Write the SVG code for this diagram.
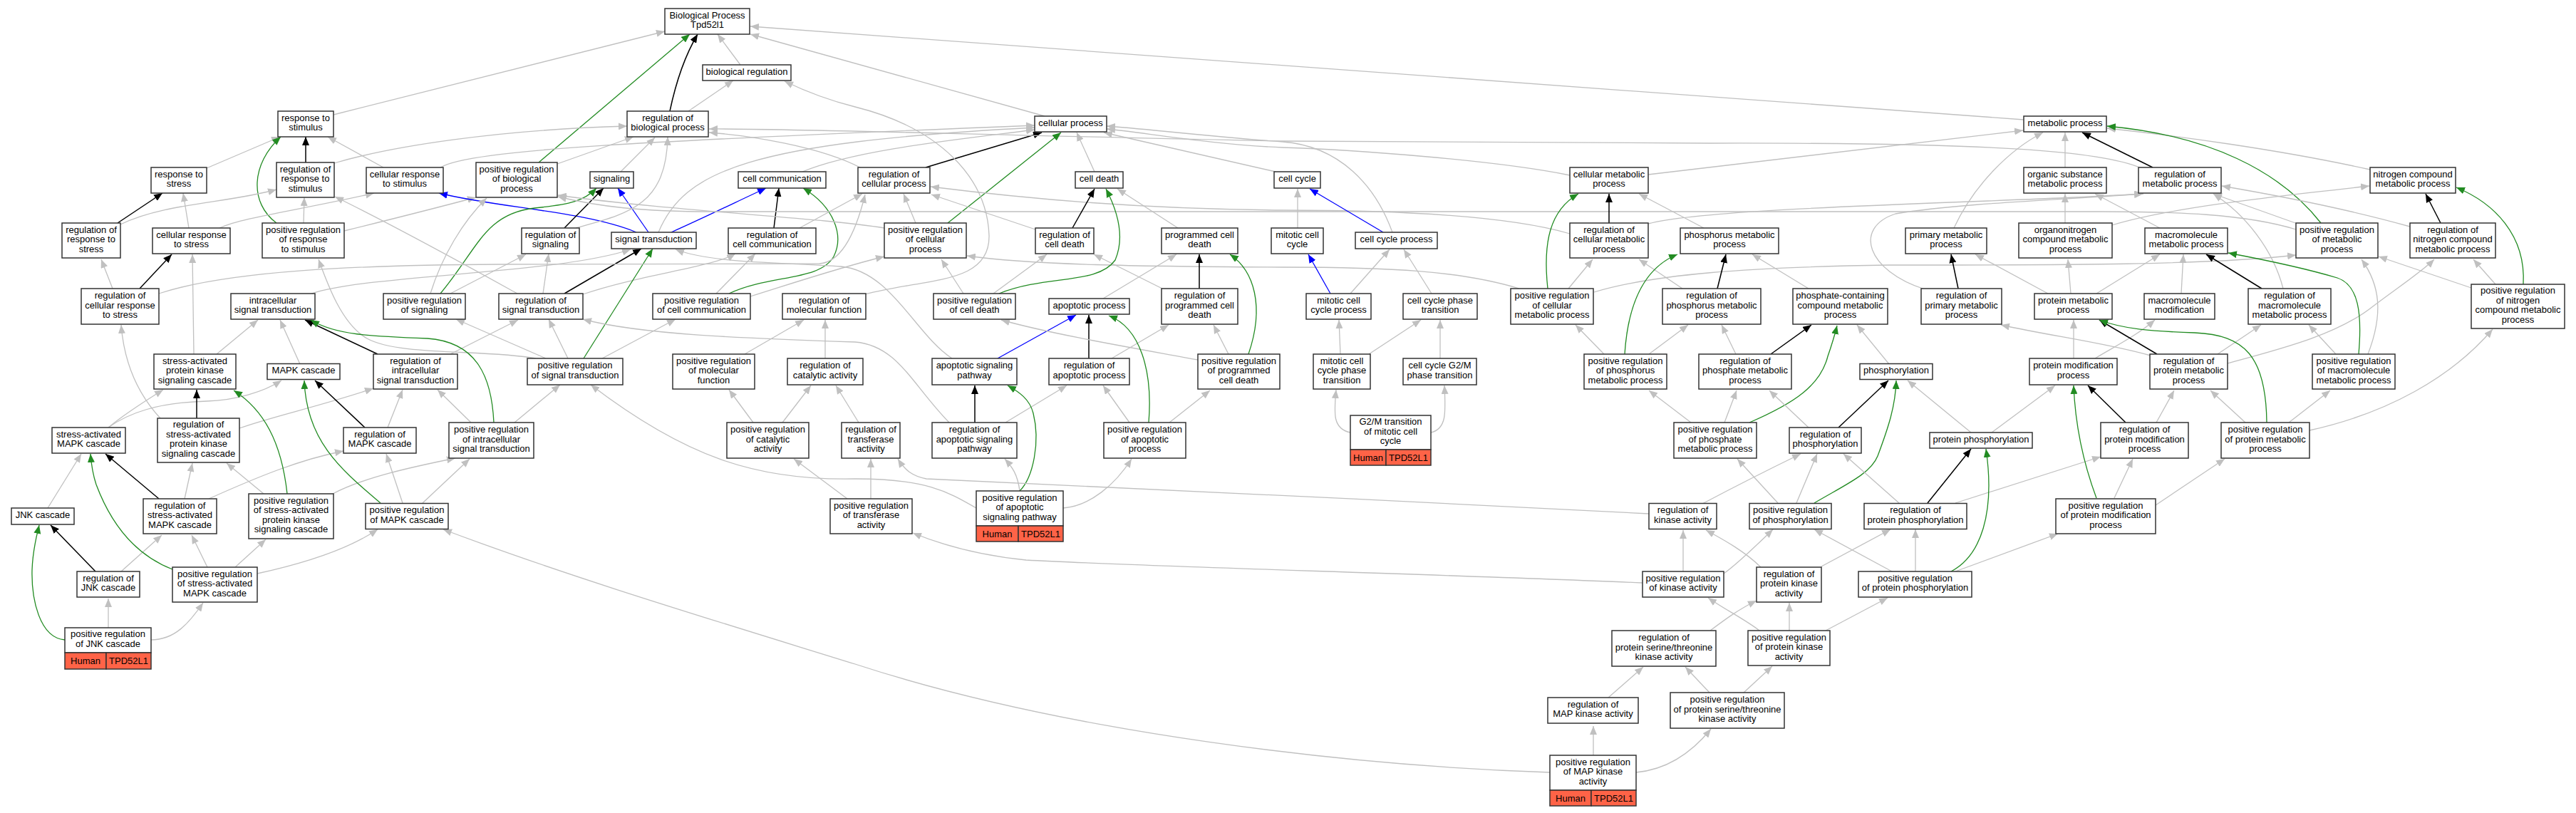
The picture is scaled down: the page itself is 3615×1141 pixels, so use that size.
<svg xmlns="http://www.w3.org/2000/svg" width="3615" height="1141" viewBox="0 0 3615 1141">
<style>
.n rect{fill:#fff;stroke:#333;stroke-width:1.5}
.n rect.h{fill:#ff6347}
.n text{font-family:"Liberation Sans",Arial,Helvetica,sans-serif;font-size:13px;text-anchor:middle;fill:#000}
#edges path{fill:none;stroke-width:1.3}
#edges .g{stroke:#c0c0c0;marker-end:url(#mg)}
#edges .k{stroke:#000;stroke-width:1.5;marker-end:url(#mk)}
#edges .v{stroke:#228b22;marker-end:url(#mv)}
#edges .b{stroke:#0000ff;marker-end:url(#mb)}
</style>
<defs>
<marker id="mg" viewBox="0 0 12 10" refX="12" refY="5" markerWidth="12" markerHeight="10" markerUnits="userSpaceOnUse" orient="auto"><path d="M0,0L12,5L0,10z" fill="#c0c0c0"/></marker>
<marker id="mk" viewBox="0 0 12 10" refX="12" refY="5" markerWidth="12" markerHeight="10" markerUnits="userSpaceOnUse" orient="auto"><path d="M0,0L12,5L0,10z" fill="#000"/></marker>
<marker id="mv" viewBox="0 0 12 10" refX="12" refY="5" markerWidth="12" markerHeight="10" markerUnits="userSpaceOnUse" orient="auto"><path d="M0,0L12,5L0,10z" fill="#228b22"/></marker>
<marker id="mb" viewBox="0 0 12 10" refX="12" refY="5" markerWidth="12" markerHeight="10" markerUnits="userSpaceOnUse" orient="auto"><path d="M0,0L12,5L0,10z" fill="#0000ff"/></marker>
</defs>
<rect width="3615" height="1141" fill="#fff"/>
<g id="edges">
<path class="g" d="M1039,91L1007,48"/>
<path class="k" d="M940,156C948,118 960,80 979,48"/>
<path class="g" d="M966,156L1029,113"/>
<path class="v" d="M756,228L968,48"/>
<path class="g" d="M782,230L889,192"/>
<path class="g" d="M468,161L933,44"/>
<path class="g" d="M1466,163L1053,48"/>
<path class="g" d="M2840,168L1053,37"/>
<path class="g" d="M290,236L393,192"/>
<path class="k" d="M429,228L429,192"/>
<path class="g" d="M538,235L460,192"/>
<path class="v" d="M388,313C350,285 352,230 394,192"/>
<path class="k" d="M165,313L228,271"/>
<path class="g" d="M169,315C230,285 320,285 388,266"/>
<path class="g" d="M265,320L257,271"/>
<path class="g" d="M308,320C340,305 420,295 525,271"/>
<path class="g" d="M426,313L427,277"/>
<path class="g" d="M483,324C540,310 600,295 668,277"/>
<path class="g" d="M469,229C550,205 700,182 880,177"/>
<path class="g" d="M618,235C660,210 900,198 1452,176"/>
<path class="b" d="M893,326C820,296 700,292 616,271"/>
<path class="b" d="M910,326L867,264"/>
<path class="b" d="M942,326C1000,300 1040,280 1075,264"/>
<path class="k" d="M792,320L847,264"/>
<path class="v" d="M618,412C670,350 680,300 750,292C800,287 820,282 837,264"/>
<path class="g" d="M871,241L919,193"/>
<path class="g" d="M808,320C880,300 935,290 937,192"/>
<path class="k" d="M1086,320L1093,264"/>
<path class="g" d="M1122,320L1210,272"/>
<path class="g" d="M1005,412L1060,356"/>
<path class="v" d="M1023,412C1080,385 1150,395 1170,360C1185,330 1170,290 1127,264"/>
<path class="g" d="M762,412L770,356"/>
<path class="k" d="M792,412L900,349"/>
<path class="g" d="M818,413C900,385 1000,375 1032,356"/>
<path class="g" d="M726,412C650,370 560,320 470,276"/>
<path class="g" d="M752,503C680,490 560,500 515,475C480,455 460,400 447,364"/>
<path class="g" d="M437,412C520,385 780,385 885,350"/>
<path class="g" d="M1336,503C1285,470 1250,380 1180,374C1100,368 1000,370 948,350"/>
<path class="v" d="M819,503L916,349"/>
<path class="g" d="M797,503L770,448"/>
<path class="g" d="M766,503L640,448"/>
<path class="g" d="M845,503L948,448"/>
<path class="g" d="M722,593L786,540"/>
<path class="g" d="M1370,713C1330,690 1300,672 1200,672C1060,675 960,640 829,540"/>
<path class="g" d="M924,326C960,240 1050,200 1452,179"/>
<path class="g" d="M1126,241C1200,210 1350,195 1452,182"/>
<path class="k" d="M1299,235L1462,186"/>
<path class="g" d="M1209,236C1150,205 1050,190 995,186"/>
<path class="g" d="M3005,236C2950,212 2800,200 2400,201L1800,198C1400,190 1100,180 995,181"/>
<path class="g" d="M1285,313L1268,272"/>
<path class="v" d="M1330,313L1489,186"/>
<path class="g" d="M1241,320C1150,305 950,297 783,274"/>
<path class="g" d="M3222,322C3150,300 3050,297 2950,297L1000,297C900,297 840,290 783,276"/>
<path class="g" d="M2203,328C2100,298 1900,295 1800,295C1600,293 1450,280 1306,262"/>
<path class="g" d="M1536,241L1511,186"/>
<path class="g" d="M1790,241L1549,186"/>
<path class="g" d="M2203,246C2100,225 1900,210 1800,207C1700,203 1600,185 1553,181"/>
<path class="g" d="M1954,326C1930,260 1880,205 1800,199C1700,192 1600,180 1553,177"/>
<path class="g" d="M2313,245L2839,183"/>
<path class="g" d="M2898,235L2898,186"/>
<path class="k" d="M3021,235L2922,186"/>
<path class="g" d="M3326,238C3200,210 3050,190 2957,180"/>
<path class="v" d="M3257,313C3200,240 3100,190 2957,177"/>
<path class="k" d="M3425,313L3404,272"/>
<path class="g" d="M3382,318C3300,295 3200,275 3118,261"/>
<path class="v" d="M3541,399C3545,330 3500,285 3447,263"/>
<path class="g" d="M3502,399L3471,364"/>
<path class="g" d="M3468,404L3338,360"/>
<path class="g" d="M3224,314L3106,272"/>
<path class="k" d="M2258,313L2258,272"/>
<path class="g" d="M2313,314C2400,290 2800,285 3008,272"/>
<path class="g" d="M2391,320L2300,272"/>
<path class="g" d="M2742,320C2770,260 2820,210 2867,186"/>
<path class="g" d="M2898,313L2898,272"/>
<path class="g" d="M2964,316C3050,290 3200,275 3325,261"/>
<path class="g" d="M3031,320L2940,272"/>
<path class="v" d="M2172,405C2165,340 2175,295 2215,272"/>
<path class="g" d="M2201,405L2235,364"/>
<path class="g" d="M2132,405C2050,380 1950,375 1800,375C1600,374 1450,372 1357,359"/>
<path class="g" d="M2237,410C2320,385 2450,375 2650,372C2900,372 3100,372 3222,358"/>
<path class="k" d="M2410,405L2422,357"/>
<path class="g" d="M2361,405L2300,364"/>
<path class="g" d="M2538,405L2459,357"/>
<path class="k" d="M2748,405L2738,357"/>
<path class="g" d="M2701,406C2620,380 2600,320 2660,300C2750,285 2900,280 3007,272"/>
<path class="g" d="M2874,412L2772,357"/>
<path class="g" d="M2906,412L2902,364"/>
<path class="g" d="M2942,412L3031,357"/>
<path class="g" d="M3061,412L3064,357"/>
<path class="k" d="M3174,405L3096,357"/>
<path class="g" d="M3204,405C3190,350 3150,300 3106,272"/>
<path class="g" d="M2651,511L2606,456"/>
<path class="k" d="M2485,497L2542,456"/>
<path class="g" d="M2436,497L2416,456"/>
<path class="g" d="M2314,497L2369,456"/>
<path class="g" d="M2251,497L2211,456"/>
<path class="v" d="M2280,497C2285,420 2310,375 2354,357"/>
<path class="g" d="M2910,503L2910,449"/>
<path class="g" d="M2940,503C2970,485 3000,470 3024,449"/>
<path class="k" d="M3027,497L2946,449"/>
<path class="g" d="M3112,497L3173,456"/>
<path class="g" d="M3126,510C3200,490 3280,470 3330,430C3370,400 3400,380 3416,364"/>
<path class="g" d="M3018,499C2950,480 2880,472 2808,456"/>
<path class="v" d="M3310,497C3315,440 3310,400 3280,390C3230,375 3180,365 3127,355"/>
<path class="g" d="M3278,497L3240,456"/>
<path class="g" d="M3323,497C3345,440 3340,400 3314,364"/>
<path class="g" d="M304,497L362,449"/>
<path class="g" d="M272,497L270,357"/>
<path class="g" d="M421,511L393,449"/>
<path class="k" d="M530,497L428,449"/>
<path class="g" d="M632,497L727,449"/>
<path class="g" d="M1045,497L1128,449"/>
<path class="g" d="M1158,503L1158,449"/>
<path class="g" d="M1214,413C1300,390 1390,400 1388,330C1385,250 1320,180 1200,150C1160,140 1130,128 1101,114"/>
<path class="b" d="M1400,503L1510,442"/>
<path class="k" d="M1528,503L1528,442"/>
<path class="g" d="M1560,503L1640,456"/>
<path class="g" d="M1724,497L1703,456"/>
<path class="v" d="M1752,497C1775,430 1760,380 1726,357"/>
<path class="g" d="M1681,505C1600,490 1480,470 1405,449"/>
<path class="g" d="M1548,419L1651,357"/>
<path class="k" d="M1683,405L1683,357"/>
<path class="g" d="M1633,406L1535,357"/>
<path class="g" d="M1394,412L1469,357"/>
<path class="v" d="M1402,412C1470,385 1540,400 1565,365C1580,330 1565,290 1552,265"/>
<path class="g" d="M1352,412L1321,364"/>
<path class="k" d="M1505,320L1536,265"/>
<path class="g" d="M1453,322L1307,273"/>
<path class="g" d="M1653,320L1568,265"/>
<path class="g" d="M1821,320L1821,265"/>
<path class="b" d="M1941,326L1838,265"/>
<path class="b" d="M1867,412L1836,357"/>
<path class="g" d="M1895,412L1950,350"/>
<path class="g" d="M2009,412L1970,350"/>
<path class="g" d="M1881,497L1879,449"/>
<path class="g" d="M1921,497L1994,449"/>
<path class="g" d="M2021,503L2021,449"/>
<path class="g" d="M1895,607C1870,602 1872,580 1875,547"/>
<path class="g" d="M2008,607C2030,602 2029,580 2027,541"/>
<path class="g" d="M152,600C170,585 200,565 229,547"/>
<path class="g" d="M152,600C180,580 220,565 290,563C330,562 370,550 395,534"/>
<path class="k" d="M276,587L276,547"/>
<path class="g" d="M225,587C200,560 175,520 170,456"/>
<path class="g" d="M336,601C380,585 450,570 524,545"/>
<path class="k" d="M512,600L442,534"/>
<path class="g" d="M544,600L565,547"/>
<path class="g" d="M661,593L614,547"/>
<path class="v" d="M693,593C690,530 670,480 600,475C520,472 470,470 436,449"/>
<path class="g" d="M1098,593L1138,541"/>
<path class="g" d="M1057,593L1023,547"/>
<path class="g" d="M1205,593L1173,541"/>
<path class="k" d="M1368,593L1368,541"/>
<path class="g" d="M1411,593L1497,541"/>
<path class="g" d="M1332,593C1280,540 1260,485 1200,480C1050,475 900,470 818,448"/>
<path class="g" d="M1585,593L1548,541"/>
<path class="v" d="M1612,593C1618,520 1600,460 1556,443"/>
<path class="g" d="M1641,593L1698,548"/>
<path class="g" d="M2420,593L2437,548"/>
<path class="v" d="M2455,593C2520,565 2555,540 2565,500C2572,480 2576,465 2578,457"/>
<path class="g" d="M2373,593L2314,548"/>
<path class="k" d="M2580,600L2650,534"/>
<path class="g" d="M2538,600L2483,548"/>
<path class="g" d="M2766,607L2677,534"/>
<path class="g" d="M2795,607L2884,541"/>
<path class="k" d="M2983,593L2930,541"/>
<path class="g" d="M3026,593L3051,548"/>
<path class="g" d="M3151,593L3102,548"/>
<path class="v" d="M3181,593C3180,500 3150,470 3080,467C3020,465 2980,462 2946,449"/>
<path class="g" d="M3212,593L3270,548"/>
<path class="g" d="M3241,604C3350,580 3440,530 3498,462"/>
<path class="g" d="M67,713L114,637"/>
<path class="k" d="M223,700L148,637"/>
<path class="g" d="M259,700L270,650"/>
<path class="g" d="M293,700C360,670 420,645 482,633"/>
<path class="g" d="M370,693L318,650"/>
<path class="v" d="M403,693C395,620 370,575 328,548"/>
<path class="g" d="M467,693C510,670 580,655 639,643"/>
<path class="g" d="M565,706L542,637"/>
<path class="v" d="M534,706C480,660 430,620 427,534"/>
<path class="g" d="M593,706L659,644"/>
<path class="g" d="M1222,700L1222,644"/>
<path class="g" d="M1189,700L1114,644"/>
<path class="g" d="M1431,689C1428,665 1420,655 1410,644"/>
<path class="v" d="M1431,689C1450,670 1460,620 1450,580C1445,560 1430,550 1414,541"/>
<path class="g" d="M1492,713C1530,710 1565,680 1588,644"/>
<path class="g" d="M2314,721C2000,705 1500,680 1300,672C1280,668 1270,660 1260,644"/>
<path class="g" d="M2389,707C2440,680 2490,655 2527,637"/>
<path class="g" d="M2521,706L2550,637"/>
<path class="v" d="M2546,706C2590,680 2625,665 2635,640C2650,600 2660,570 2661,534"/>
<path class="g" d="M2495,706L2438,644"/>
<path class="g" d="M2665,706L2587,637"/>
<path class="k" d="M2705,706L2766,630"/>
<path class="g" d="M2744,706L2948,641"/>
<path class="g" d="M2967,699L2993,644"/>
<path class="v" d="M2942,699C2920,640 2912,590 2910,541"/>
<path class="g" d="M3025,709L3122,644"/>
<path class="k" d="M134,802L71,737"/>
<path class="g" d="M170,802L227,751"/>
<path class="g" d="M291,796L269,751"/>
<path class="v" d="M242,799C180,775 150,720 135,680C130,665 128,650 127,637"/>
<path class="g" d="M330,796L373,757"/>
<path class="g" d="M361,805C430,790 490,770 530,743"/>
<path class="g" d="M2362,802L2362,744"/>
<path class="g" d="M2305,818C2000,805 1600,795 1440,786C1380,780 1330,768 1281,748"/>
<path class="g" d="M2419,805C2440,790 2465,765 2488,743"/>
<path class="g" d="M2471,796C2450,775 2420,758 2394,744"/>
<path class="g" d="M2556,795L2653,743"/>
<path class="g" d="M2688,802L2688,743"/>
<path class="v" d="M2738,802C2780,780 2800,720 2787,630"/>
<path class="g" d="M2655,802L2546,743"/>
<path class="g" d="M2744,802L2888,749"/>
<path class="g" d="M152,881L152,840"/>
<path class="v" d="M91,898C55,895 44,840 45,800C46,770 52,750 55,737"/>
<path class="g" d="M212,898C245,898 265,875 285,846"/>
<path class="g" d="M2400,885C2420,870 2440,855 2465,843"/>
<path class="g" d="M2469,885C2450,870 2420,855 2397,839"/>
<path class="g" d="M2511,885L2511,846"/>
<path class="g" d="M2562,885L2649,839"/>
<path class="g" d="M2257,979L2306,936"/>
<path class="g" d="M2399,972L2365,936"/>
<path class="g" d="M2447,972L2487,935"/>
<path class="g" d="M2236,1060L2236,1019"/>
<path class="g" d="M2296,1084C2340,1080 2375,1055 2401,1023"/>
<path class="g" d="M2175,1084C1900,1075 1500,1030 1200,932C1000,870 800,810 622,743"/>
<path class="g" d="M158,405L142,364"/>
<path class="k" d="M196,405L241,357"/>
<path class="g" d="M223,412C320,380 500,372 700,371L1150,370C1180,368 1200,330 1214,273"/>
<path class="g" d="M604,412C620,360 650,310 683,278"/>
<path class="g" d="M632,412L738,357"/>
<path class="g" d="M1053,416C1120,395 1180,375 1241,360"/>
</g>
<g id="n-bp" class="n"><rect x="933" y="12" width="119" height="36"/><text x="992.5" y="25.75">Biological Process</text><text x="992.5" y="39.25">Tpd52l1</text></g>
<g id="n-bioreg" class="n"><rect x="986" y="91" width="124" height="22"/><text x="1048" y="104.5">biological regulation</text></g>
<g id="n-regbp" class="n"><rect x="880" y="156" width="114" height="36"/><text x="937" y="169.75">regulation of</text><text x="937" y="183.25">biological process</text></g>
<g id="n-respstim" class="n"><rect x="390" y="156" width="78" height="36"/><text x="429" y="169.75">response to</text><text x="429" y="183.25">stimulus</text></g>
<g id="n-cellproc" class="n"><rect x="1452" y="163" width="101" height="22"/><text x="1502.5" y="176.5">cellular process</text></g>
<g id="n-metab" class="n"><rect x="2840" y="163" width="116" height="22"/><text x="2898" y="176.5">metabolic process</text></g>
<g id="n-respstress" class="n"><rect x="212" y="235" width="78" height="36"/><text x="251" y="248.75">response to</text><text x="251" y="262.25">stress</text></g>
<g id="n-regrespstim" class="n"><rect x="388" y="228" width="81" height="49"/><text x="428.5" y="241.5">regulation of</text><text x="428.5" y="255">response to</text><text x="428.5" y="268.5">stimulus</text></g>
<g id="n-cellrespstim" class="n"><rect x="514" y="235" width="108" height="36"/><text x="568" y="248.75">cellular response</text><text x="568" y="262.25">to stimulus</text></g>
<g id="n-posregbp" class="n"><rect x="668" y="228" width="114" height="49"/><text x="725" y="241.5">positive regulation</text><text x="725" y="255">of biological</text><text x="725" y="268.5">process</text></g>
<g id="n-signaling" class="n"><rect x="828" y="241" width="61" height="23"/><text x="858.5" y="255">signaling</text></g>
<g id="n-cellcomm" class="n"><rect x="1036" y="241" width="123" height="23"/><text x="1097.5" y="255">cell communication</text></g>
<g id="n-regcellproc" class="n"><rect x="1204" y="235" width="101" height="36"/><text x="1254.5" y="248.75">regulation of</text><text x="1254.5" y="262.25">cellular process</text></g>
<g id="n-celldeath" class="n"><rect x="1509" y="241" width="67" height="23"/><text x="1542.5" y="255">cell death</text></g>
<g id="n-cellcycle" class="n"><rect x="1788" y="241" width="65" height="23"/><text x="1820.5" y="255">cell cycle</text></g>
<g id="n-cellmetab" class="n"><rect x="2203" y="235" width="110" height="36"/><text x="2258" y="248.75">cellular metabolic</text><text x="2258" y="262.25">process</text></g>
<g id="n-orgsub" class="n"><rect x="2840" y="235" width="116" height="36"/><text x="2898" y="248.75">organic substance</text><text x="2898" y="262.25">metabolic process</text></g>
<g id="n-regmetab" class="n"><rect x="3001" y="235" width="116" height="36"/><text x="3059" y="248.75">regulation of</text><text x="3059" y="262.25">metabolic process</text></g>
<g id="n-nitro" class="n"><rect x="3326" y="235" width="120" height="36"/><text x="3386" y="248.75">nitrogen compound</text><text x="3386" y="262.25">metabolic process</text></g>
<g id="n-regrespstress" class="n"><rect x="87" y="313" width="82" height="49"/><text x="128" y="326.5">regulation of</text><text x="128" y="340">response to</text><text x="128" y="353.5">stress</text></g>
<g id="n-cellrespstress" class="n"><rect x="214" y="320" width="109" height="36"/><text x="268.5" y="333.75">cellular response</text><text x="268.5" y="347.25">to stress</text></g>
<g id="n-posregrespstim" class="n"><rect x="368" y="313" width="115" height="49"/><text x="425.5" y="326.5">positive regulation</text><text x="425.5" y="340">of response</text><text x="425.5" y="353.5">to stimulus</text></g>
<g id="n-regsignaling" class="n"><rect x="732" y="320" width="81" height="36"/><text x="772.5" y="333.75">regulation of</text><text x="772.5" y="347.25">signaling</text></g>
<g id="n-sigtrans" class="n"><rect x="858" y="326" width="119" height="23"/><text x="917.5" y="340">signal transduction</text></g>
<g id="n-regcellcomm" class="n"><rect x="1022" y="320" width="123" height="36"/><text x="1083.5" y="333.75">regulation of</text><text x="1083.5" y="347.25">cell communication</text></g>
<g id="n-posregcellproc" class="n"><rect x="1241" y="313" width="115" height="49"/><text x="1298.5" y="326.5">positive regulation</text><text x="1298.5" y="340">of cellular</text><text x="1298.5" y="353.5">process</text></g>
<g id="n-regcelldeath" class="n"><rect x="1453" y="320" width="82" height="36"/><text x="1494" y="333.75">regulation of</text><text x="1494" y="347.25">cell death</text></g>
<g id="n-pcd" class="n"><rect x="1630" y="320" width="107" height="36"/><text x="1683.5" y="333.75">programmed cell</text><text x="1683.5" y="347.25">death</text></g>
<g id="n-mitcc" class="n"><rect x="1784" y="320" width="73" height="36"/><text x="1820.5" y="333.75">mitotic cell</text><text x="1820.5" y="347.25">cycle</text></g>
<g id="n-ccproc" class="n"><rect x="1902" y="326" width="115" height="23"/><text x="1959.5" y="340">cell cycle process</text></g>
<g id="n-regcellmetab" class="n"><rect x="2203" y="313" width="110" height="49"/><text x="2258" y="326.5">regulation of</text><text x="2258" y="340">cellular metabolic</text><text x="2258" y="353.5">process</text></g>
<g id="n-phosmetab" class="n"><rect x="2358" y="320" width="138" height="36"/><text x="2427" y="333.75">phosphorus metabolic</text><text x="2427" y="347.25">process</text></g>
<g id="n-primmetab" class="n"><rect x="2674" y="320" width="114" height="36"/><text x="2731" y="333.75">primary metabolic</text><text x="2731" y="347.25">process</text></g>
<g id="n-orgnitro" class="n"><rect x="2833" y="313" width="131" height="49"/><text x="2898.5" y="326.5">organonitrogen</text><text x="2898.5" y="340">compound metabolic</text><text x="2898.5" y="353.5">process</text></g>
<g id="n-macromet" class="n"><rect x="3010" y="320" width="116" height="36"/><text x="3068" y="333.75">macromolecule</text><text x="3068" y="347.25">metabolic process</text></g>
<g id="n-posregmetab" class="n"><rect x="3222" y="313" width="115" height="49"/><text x="3279.5" y="326.5">positive regulation</text><text x="3279.5" y="340">of metabolic</text><text x="3279.5" y="353.5">process</text></g>
<g id="n-regnitro" class="n"><rect x="3382" y="313" width="120" height="49"/><text x="3442" y="326.5">regulation of</text><text x="3442" y="340">nitrogen compound</text><text x="3442" y="353.5">metabolic process</text></g>
<g id="n-regcellrespstress" class="n"><rect x="114" y="405" width="109" height="50"/><text x="168.5" y="419">regulation of</text><text x="168.5" y="432.5">cellular response</text><text x="168.5" y="446">to stress</text></g>
<g id="n-intrasig" class="n"><rect x="324" y="412" width="118" height="36"/><text x="383" y="425.75">intracellular</text><text x="383" y="439.25">signal transduction</text></g>
<g id="n-posregsignaling" class="n"><rect x="538" y="412" width="115" height="36"/><text x="595.5" y="425.75">positive regulation</text><text x="595.5" y="439.25">of signaling</text></g>
<g id="n-regsigtrans" class="n"><rect x="700" y="412" width="118" height="36"/><text x="759" y="425.75">regulation of</text><text x="759" y="439.25">signal transduction</text></g>
<g id="n-posregcellcomm" class="n"><rect x="916" y="412" width="137" height="36"/><text x="984.5" y="425.75">positive regulation</text><text x="984.5" y="439.25">of cell communication</text></g>
<g id="n-regmolfunc" class="n"><rect x="1098" y="412" width="117" height="36"/><text x="1156.5" y="425.75">regulation of</text><text x="1156.5" y="439.25">molecular function</text></g>
<g id="n-posregcelldeath" class="n"><rect x="1310" y="412" width="115" height="36"/><text x="1367.5" y="425.75">positive regulation</text><text x="1367.5" y="439.25">of cell death</text></g>
<g id="n-apoptotic" class="n"><rect x="1472" y="419" width="113" height="22"/><text x="1528.5" y="432.5">apoptotic process</text></g>
<g id="n-regpcd" class="n"><rect x="1630" y="405" width="107" height="50"/><text x="1683.5" y="419">regulation of</text><text x="1683.5" y="432.5">programmed cell</text><text x="1683.5" y="446">death</text></g>
<g id="n-mitccproc" class="n"><rect x="1833" y="412" width="91" height="36"/><text x="1878.5" y="425.75">mitotic cell</text><text x="1878.5" y="439.25">cycle process</text></g>
<g id="n-ccphase" class="n"><rect x="1969" y="412" width="104" height="36"/><text x="2021" y="425.75">cell cycle phase</text><text x="2021" y="439.25">transition</text></g>
<g id="n-posregcellmetab" class="n"><rect x="2120" y="405" width="116" height="50"/><text x="2178" y="419">positive regulation</text><text x="2178" y="432.5">of cellular</text><text x="2178" y="446">metabolic process</text></g>
<g id="n-regphosmetab" class="n"><rect x="2333" y="405" width="138" height="50"/><text x="2402" y="419">regulation of</text><text x="2402" y="432.5">phosphorus metabolic</text><text x="2402" y="446">process</text></g>
<g id="n-phoscont" class="n"><rect x="2516" y="405" width="133" height="50"/><text x="2582.5" y="419">phosphate-containing</text><text x="2582.5" y="432.5">compound metabolic</text><text x="2582.5" y="446">process</text></g>
<g id="n-regprimmetab" class="n"><rect x="2696" y="405" width="113" height="50"/><text x="2752.5" y="419">regulation of</text><text x="2752.5" y="432.5">primary metabolic</text><text x="2752.5" y="446">process</text></g>
<g id="n-protmetab" class="n"><rect x="2855" y="412" width="109" height="36"/><text x="2909.5" y="425.75">protein metabolic</text><text x="2909.5" y="439.25">process</text></g>
<g id="n-macromod" class="n"><rect x="3009" y="412" width="99" height="36"/><text x="3058.5" y="425.75">macromolecule</text><text x="3058.5" y="439.25">modification</text></g>
<g id="n-regmacromet" class="n"><rect x="3155" y="405" width="116" height="50"/><text x="3213" y="419">regulation of</text><text x="3213" y="432.5">macromolecule</text><text x="3213" y="446">metabolic process</text></g>
<g id="n-posregnitro" class="n"><rect x="3468" y="399" width="131" height="62"/><text x="3533.5" y="412.25">positive regulation</text><text x="3533.5" y="425.75">of nitrogen</text><text x="3533.5" y="439.25">compound metabolic</text><text x="3533.5" y="452.75">process</text></g>
<g id="n-sapk" class="n"><rect x="216" y="497" width="115" height="49"/><text x="273.5" y="510.5">stress-activated</text><text x="273.5" y="524">protein kinase</text><text x="273.5" y="537.5">signaling cascade</text></g>
<g id="n-mapk" class="n"><rect x="375" y="510.5" width="102" height="22"/><text x="426" y="524">MAPK cascade</text></g>
<g id="n-regintrasig" class="n"><rect x="524" y="497" width="118" height="49"/><text x="583" y="510.5">regulation of</text><text x="583" y="524">intracellular</text><text x="583" y="537.5">signal transduction</text></g>
<g id="n-posregsigtrans" class="n"><rect x="740" y="503" width="134" height="37"/><text x="807" y="517.25">positive regulation</text><text x="807" y="530.75">of signal transduction</text></g>
<g id="n-posregmolfunc" class="n"><rect x="944" y="497" width="115" height="49"/><text x="1001.5" y="510.5">positive regulation</text><text x="1001.5" y="524">of molecular</text><text x="1001.5" y="537.5">function</text></g>
<g id="n-regcatal" class="n"><rect x="1105" y="503" width="106" height="37"/><text x="1158" y="517.25">regulation of</text><text x="1158" y="530.75">catalytic activity</text></g>
<g id="n-apopsig" class="n"><rect x="1308" y="503" width="119" height="37"/><text x="1367.5" y="517.25">apoptotic signaling</text><text x="1367.5" y="530.75">pathway</text></g>
<g id="n-regapop" class="n"><rect x="1472" y="503" width="113" height="37"/><text x="1528.5" y="517.25">regulation of</text><text x="1528.5" y="530.75">apoptotic process</text></g>
<g id="n-posregpcd" class="n"><rect x="1681" y="497" width="115" height="49"/><text x="1738.5" y="510.5">positive regulation</text><text x="1738.5" y="524">of programmed</text><text x="1738.5" y="537.5">cell death</text></g>
<g id="n-mitccphase" class="n"><rect x="1843" y="497" width="80" height="49"/><text x="1883" y="510.5">mitotic cell</text><text x="1883" y="524">cycle phase</text><text x="1883" y="537.5">transition</text></g>
<g id="n-g2mphase" class="n"><rect x="1969" y="503" width="103" height="37"/><text x="2020.5" y="517.25">cell cycle G2/M</text><text x="2020.5" y="530.75">phase transition</text></g>
<g id="n-posregphosmetab" class="n"><rect x="2223" y="497" width="116" height="49"/><text x="2281" y="510.5">positive regulation</text><text x="2281" y="524">of phosphorus</text><text x="2281" y="537.5">metabolic process</text></g>
<g id="n-regphosphate" class="n"><rect x="2384" y="497" width="130" height="49"/><text x="2449" y="510.5">regulation of</text><text x="2449" y="524">phosphate metabolic</text><text x="2449" y="537.5">process</text></g>
<g id="n-phosphorylation" class="n"><rect x="2610" y="510.5" width="102" height="22"/><text x="2661" y="524">phosphorylation</text></g>
<g id="n-protmod" class="n"><rect x="2848" y="503" width="123" height="37"/><text x="2909.5" y="517.25">protein modification</text><text x="2909.5" y="530.75">process</text></g>
<g id="n-regprotmetab" class="n"><rect x="3017" y="497" width="109" height="49"/><text x="3071.5" y="510.5">regulation of</text><text x="3071.5" y="524">protein metabolic</text><text x="3071.5" y="537.5">process</text></g>
<g id="n-posregmacromet" class="n"><rect x="3245" y="497" width="116" height="49"/><text x="3303" y="510.5">positive regulation</text><text x="3303" y="524">of macromolecule</text><text x="3303" y="537.5">metabolic process</text></g>
<g id="n-samapk" class="n"><rect x="73" y="600" width="103" height="36"/><text x="124.5" y="613.75">stress-activated</text><text x="124.5" y="627.25">MAPK cascade</text></g>
<g id="n-regsapk" class="n"><rect x="221" y="587" width="115" height="62"/><text x="278.5" y="600.25">regulation of</text><text x="278.5" y="613.75">stress-activated</text><text x="278.5" y="627.25">protein kinase</text><text x="278.5" y="640.75">signaling cascade</text></g>
<g id="n-regmapk" class="n"><rect x="482" y="600" width="102" height="36"/><text x="533" y="613.75">regulation of</text><text x="533" y="627.25">MAPK cascade</text></g>
<g id="n-posregintrasig" class="n"><rect x="630" y="593" width="119" height="50"/><text x="689.5" y="607">positive regulation</text><text x="689.5" y="620.5">of intracellular</text><text x="689.5" y="634">signal transduction</text></g>
<g id="n-posregcatal" class="n"><rect x="1020" y="593" width="115" height="50"/><text x="1077.5" y="607">positive regulation</text><text x="1077.5" y="620.5">of catalytic</text><text x="1077.5" y="634">activity</text></g>
<g id="n-regtransf" class="n"><rect x="1181" y="593" width="82" height="50"/><text x="1222" y="607">regulation of</text><text x="1222" y="620.5">transferase</text><text x="1222" y="634">activity</text></g>
<g id="n-regapopsig" class="n"><rect x="1308" y="593" width="119" height="50"/><text x="1367.5" y="607">regulation of</text><text x="1367.5" y="620.5">apoptotic signaling</text><text x="1367.5" y="634">pathway</text></g>
<g id="n-posregapop" class="n"><rect x="1549" y="593" width="115" height="50"/><text x="1606.5" y="607">positive regulation</text><text x="1606.5" y="620.5">of apoptotic</text><text x="1606.5" y="634">process</text></g>
<g id="n-g2m" class="n"><rect x="1895" y="583" width="113" height="48"/><rect class="h" x="1895" y="631" width="50" height="22"/><rect class="h" x="1945" y="631" width="63" height="22"/><text x="1951.5" y="596">G2/M transition</text><text x="1951.5" y="609.5">of mitotic cell</text><text x="1951.5" y="623">cycle</text><text x="1920" y="646.5">Human</text><text x="1976.5" y="646.5">TPD52L1</text></g>
<g id="n-posregphosphate" class="n"><rect x="2349" y="593" width="116" height="50"/><text x="2407" y="607">positive regulation</text><text x="2407" y="620.5">of phosphate</text><text x="2407" y="634">metabolic process</text></g>
<g id="n-regphosph" class="n"><rect x="2511" y="600" width="101" height="36"/><text x="2561.5" y="613.75">regulation of</text><text x="2561.5" y="627.25">phosphorylation</text></g>
<g id="n-protphos" class="n"><rect x="2708" y="607" width="144" height="22"/><text x="2780" y="620.5">protein phosphorylation</text></g>
<g id="n-regprotmod" class="n"><rect x="2948" y="593" width="123" height="50"/><text x="3009.5" y="607">regulation of</text><text x="3009.5" y="620.5">protein modification</text><text x="3009.5" y="634">process</text></g>
<g id="n-posregprotmetab" class="n"><rect x="3117" y="593" width="124" height="50"/><text x="3179" y="607">positive regulation</text><text x="3179" y="620.5">of protein metabolic</text><text x="3179" y="634">process</text></g>
<g id="n-jnk" class="n"><rect x="16" y="713" width="88" height="23"/><text x="60" y="727">JNK cascade</text></g>
<g id="n-regsamapk" class="n"><rect x="201" y="700" width="103" height="49"/><text x="252.5" y="713.5">regulation of</text><text x="252.5" y="727">stress-activated</text><text x="252.5" y="740.5">MAPK cascade</text></g>
<g id="n-posregsapk" class="n"><rect x="349" y="693" width="119" height="63"/><text x="408.5" y="706.75">positive regulation</text><text x="408.5" y="720.25">of stress-activated</text><text x="408.5" y="733.75">protein kinase</text><text x="408.5" y="747.25">signaling cascade</text></g>
<g id="n-posregmapk" class="n"><rect x="513" y="706.5" width="116" height="36"/><text x="571" y="720.25">positive regulation</text><text x="571" y="733.75">of MAPK cascade</text></g>
<g id="n-posregtransf" class="n"><rect x="1165" y="700" width="115" height="49"/><text x="1222.5" y="713.5">positive regulation</text><text x="1222.5" y="727">of transferase</text><text x="1222.5" y="740.5">activity</text></g>
<g id="n-posregapopsig" class="n"><rect x="1370" y="689" width="122" height="49"/><rect class="h" x="1370" y="738" width="59" height="22"/><rect class="h" x="1429" y="738" width="63" height="22"/><text x="1431" y="702.5">positive regulation</text><text x="1431" y="716">of apoptotic</text><text x="1431" y="729.5">signaling pathway</text><text x="1399.5" y="753.5">Human</text><text x="1460.5" y="753.5">TPD52L1</text></g>
<g id="n-regkinase" class="n"><rect x="2314" y="706.5" width="95" height="36"/><text x="2361.5" y="720.25">regulation of</text><text x="2361.5" y="733.75">kinase activity</text></g>
<g id="n-posregphosph" class="n"><rect x="2455" y="706.5" width="115" height="36"/><text x="2512.5" y="720.25">positive regulation</text><text x="2512.5" y="733.75">of phosphorylation</text></g>
<g id="n-regprotphos" class="n"><rect x="2616" y="706.5" width="144" height="36"/><text x="2688" y="720.25">regulation of</text><text x="2688" y="733.75">protein phosphorylation</text></g>
<g id="n-posregprotmod" class="n"><rect x="2885" y="700" width="140" height="49"/><text x="2955" y="713.5">positive regulation</text><text x="2955" y="727">of protein modification</text><text x="2955" y="740.5">process</text></g>
<g id="n-regjnk" class="n"><rect x="108" y="802" width="88" height="36"/><text x="152" y="815.75">regulation of</text><text x="152" y="829.25">JNK cascade</text></g>
<g id="n-posregsamapk" class="n"><rect x="242" y="796" width="119" height="49"/><text x="301.5" y="809.5">positive regulation</text><text x="301.5" y="823">of stress-activated</text><text x="301.5" y="836.5">MAPK cascade</text></g>
<g id="n-posregkinase" class="n"><rect x="2305" y="802" width="114" height="36"/><text x="2362" y="815.75">positive regulation</text><text x="2362" y="829.25">of kinase activity</text></g>
<g id="n-regprotkinase" class="n"><rect x="2465" y="796" width="91" height="49"/><text x="2510.5" y="809.5">regulation of</text><text x="2510.5" y="823">protein kinase</text><text x="2510.5" y="836.5">activity</text></g>
<g id="n-posregprotphos" class="n"><rect x="2608" y="802" width="159" height="36"/><text x="2687.5" y="815.75">positive regulation</text><text x="2687.5" y="829.25">of protein phosphorylation</text></g>
<g id="n-posregjnk" class="n"><rect x="91" y="881" width="121" height="35"/><rect class="h" x="91" y="916" width="58" height="23"/><rect class="h" x="149" y="916" width="63" height="23"/><text x="151.5" y="894.25">positive regulation</text><text x="151.5" y="907.75">of JNK cascade</text><text x="120" y="932">Human</text><text x="180.5" y="932">TPD52L1</text></g>
<g id="n-regprotser" class="n"><rect x="2262" y="885" width="146" height="50"/><text x="2335" y="899">regulation of</text><text x="2335" y="912.5">protein serine/threonine</text><text x="2335" y="926">kinase activity</text></g>
<g id="n-posregprotkinase" class="n"><rect x="2453" y="885" width="115" height="49"/><text x="2510.5" y="898.5">positive regulation</text><text x="2510.5" y="912">of protein kinase</text><text x="2510.5" y="925.5">activity</text></g>
<g id="n-regmapkact" class="n"><rect x="2172" y="979" width="127" height="36"/><text x="2235.5" y="992.75">regulation of</text><text x="2235.5" y="1006.25">MAP kinase activity</text></g>
<g id="n-posregprotser" class="n"><rect x="2344" y="972" width="160" height="50"/><text x="2424" y="986">positive regulation</text><text x="2424" y="999.5">of protein serine/threonine</text><text x="2424" y="1013">kinase activity</text></g>
<g id="n-posregmapkact" class="n"><rect x="2175" y="1060" width="121" height="49"/><rect class="h" x="2175" y="1109" width="58" height="22"/><rect class="h" x="2233" y="1109" width="63" height="22"/><text x="2235.5" y="1073.5">positive regulation</text><text x="2235.5" y="1087">of MAP kinase</text><text x="2235.5" y="1100.5">activity</text><text x="2204" y="1124.5">Human</text><text x="2264.5" y="1124.5">TPD52L1</text></g>
</svg>
